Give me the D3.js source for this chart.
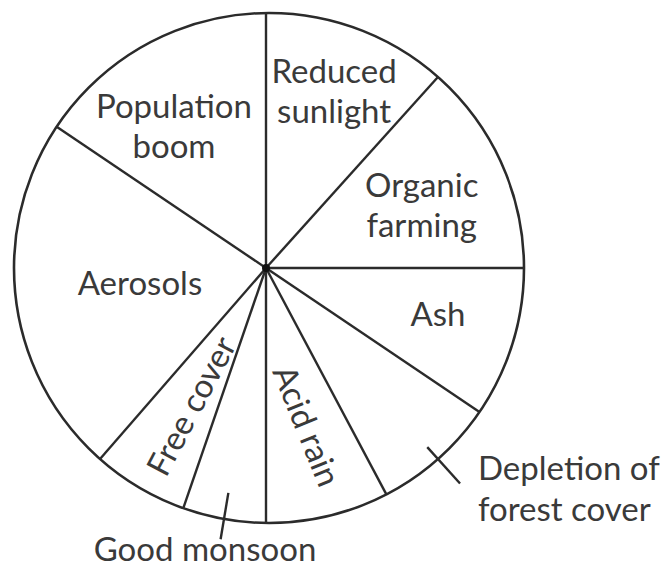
<!DOCTYPE html>
<html><head><meta charset="utf-8">
<script src="https://cdn.jsdelivr.net/npm/d3@7"></script>
<style>body{margin:0;background:#fff}svg{display:block}</style>
</head><body>
<svg id="chart" width="665" height="569"></svg>
<script>
// ---- data ----
const categories = ["Reduced sunlight","Organic farming","Ash","Depletion of forest cover","Acid rain","Good monsoon","Free cover","Aerosols","Population boom"];
const values = [42, 48, 34, 28, 28, 19, 22, 83, 56];
const labelLines = [["Reduced","sunlight"],["Organic","farming"],["Ash"],["Depletion of","forest cover"],["Acid rain"],["Good monsoon"],["Free cover"],["Aerosols"],["Population","boom"]];

// ---- layout (positions/styles) ----
const W = 665, H = 569;
const hub = {x: 266, y: 268};      // where spokes meet
const rim = {x: 269, y: 268, r: 255}; // outer circle
const ink = "#2b2b2b", textInk = "#3a3a3a";
const fontSize = 33, lineH = 40;
const layout = [
  {r: 190, da: 0, rot: 0},
  {r: 168, da: 2, rot: 0},
  {r: 178, da: -2, rot: 0},
  {outside: true, x: 478, y: 480, anchor: "start", leader: [241, 290]},
  {r: 163, da: -0.5, rot: 68},
  {outside: true, x: 205, y: 561, anchor: "middle", leader: [228, 275]},
  {r: 157, da: -1.5, rot: -62},
  {r: 127, da: 0.5, rot: 0},
  {r: 169, da: -5, rot: 0}
];

const svg = d3.select("#chart");
const pie = d3.pie().sort(null).value(d => d)(values);

const polar = (a, r) => [hub.x + r * Math.sin(a), hub.y - r * Math.cos(a)];
function rimHit(a) {
  const ux = Math.sin(a), uy = -Math.cos(a);
  const dx = hub.x - rim.x, dy = hub.y - rim.y;
  const b = dx * ux + dy * uy;
  const c = dx * dx + dy * dy - rim.r * rim.r;
  const t = -b + Math.sqrt(b * b - c);
  return [hub.x + t * ux, hub.y + t * uy];
}

// outer circle
svg.append("circle").attr("cx", rim.x).attr("cy", rim.y).attr("r", rim.r)
  .attr("fill", "#fff").attr("stroke", ink).attr("stroke-width", 2.6);

// spokes (slice boundaries)
svg.append("g").selectAll("line").data(pie).join("line")
  .attr("x1", hub.x).attr("y1", hub.y)
  .attr("x2", d => rimHit(d.startAngle)[0])
  .attr("y2", d => rimHit(d.startAngle)[1])
  .attr("stroke", ink).attr("stroke-width", 2.4);

svg.append("circle").attr("cx", hub.x).attr("cy", hub.y).attr("r", 4).attr("fill", "#111");

// labels
const deg = Math.PI / 180;
pie.forEach((d, i) => {
  const L = layout[i];
  const mid = (d.startAngle + d.endAngle) / 2;
  const lines = labelLines[i];
  if (L.outside) {
    const p1 = polar(mid, L.leader[0]), p2 = polar(mid, L.leader[1]);
    svg.append("line").attr("x1", p1[0]).attr("y1", p1[1]).attr("x2", p2[0]).attr("y2", p2[1])
      .attr("stroke", ink).attr("stroke-width", 2.4);
    const t = svg.append("text").attr("font-family", "Lato, 'Open Sans', sans-serif")
      .attr("font-size", fontSize).attr("fill", textInk).attr("text-anchor", L.anchor);
    lines.forEach((s, k) => t.append("tspan").attr("x", L.x).attr("y", L.y + k * (lineH + 1)).text(s));
  } else {
    const p = polar(mid + L.da * deg, L.r);
    const g = svg.append("g").attr("transform", `translate(${p[0]},${p[1]}) rotate(${L.rot})`);
    const t = g.append("text").attr("font-family", "Lato, 'Open Sans', sans-serif")
      .attr("font-size", fontSize).attr("fill", textInk).attr("text-anchor", "middle");
    lines.forEach((s, k) => t.append("tspan").attr("x", 0)
      .attr("y", (k - (lines.length - 1) / 2) * lineH).attr("dy", "0.36em").text(s));
  }
});
</script>
</body></html>
